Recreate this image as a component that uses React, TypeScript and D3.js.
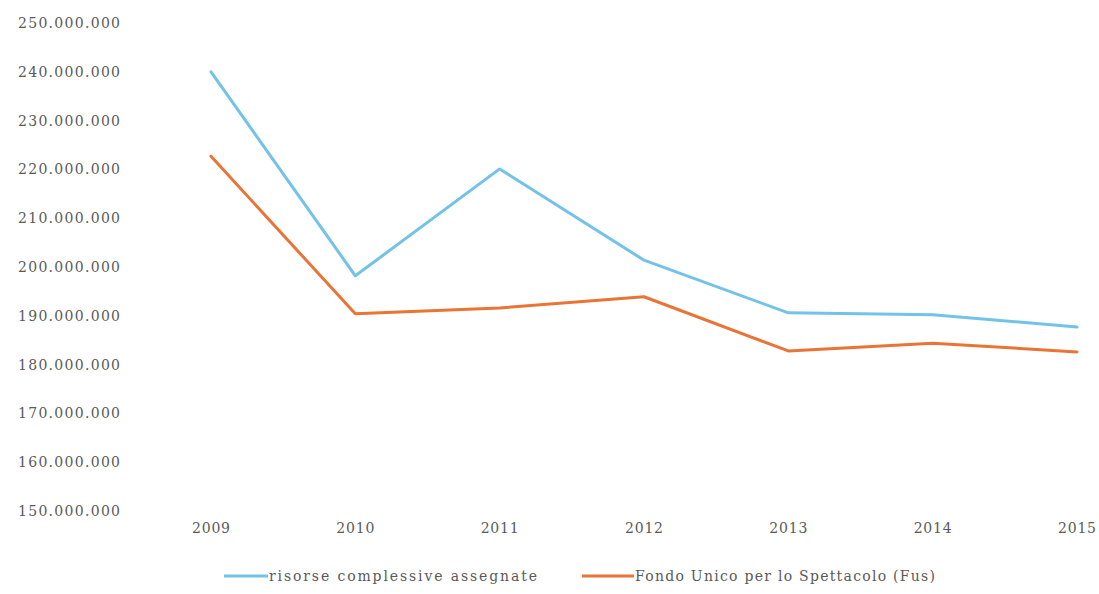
import React from 'react'
import * as d3 from 'd3'

const years = ['2009', '2010', '2011', '2012', '2013', '2014', '2015']
// risorse complessive assegnate
const totalResources = [240.0, 198.2, 220.1, 201.4, 190.6, 190.2, 187.7].map(v => v * 1e6)
// Fondo Unico per lo Spettacolo
const fusValues = [222.7, 190.4, 191.6, 193.9, 182.8, 184.4, 182.6].map(v => v * 1e6)
const yTicks = [150, 160, 170, 180, 190, 200, 210, 220, 230, 240, 250].map(v => v * 1e6)

const seriesNames = ['risorse complessive assegnate', 'Fondo Unico per lo Spettacolo (Fus)']
const seriesColors = ['#72c2ea', '#ea7436']

const width = 1099
const height = 594
const textColor = '#5a5a5a'
const font = '"DejaVu Serif", "Liberation Serif", serif'

export default function App() {
  const x = d3.scalePoint<string>().domain(years).range([211, 1077])
  const y = d3.scaleLinear().domain([150e6, 250e6]).range([511, 23])

  const line = d3.line<number>()
    .x((_, i) => x(years[i]) as number)
    .y(d => y(d))

  const fmt = (v: number) => d3.format(',')(v).replace(/,/g, '.')
  const series = [totalResources, fusValues]

  // legend layout: swatch start/end and text width
  const legend = [
    { x0: 224, x1: 268, tw: 268 },
    { x0: 582, x1: 634, tw: 300 },
  ]

  return (
    <svg width={width} height={height} style={{ position: 'absolute', left: 0, top: 0, background: '#fff' }}
      fontFamily={font}>
      {/* y axis labels */}
      {yTicks.map(t => (
        <text key={t} x={120} y={y(t)} dy="0.35em" textAnchor="end" fontSize={14}
          fill={textColor} textLength={102} lengthAdjust="spacing">
          {fmt(t)}
        </text>
      ))}

      {/* x axis labels */}
      {years.map(yr => (
        <text key={yr} x={x(yr)} y={528} dy="0.35em" textAnchor="middle" fontSize={14}
          fill={textColor} textLength={38} lengthAdjust="spacing">
          {yr}
        </text>
      ))}

      {series.map((s, i) => (
        <path key={i} d={line(s) || ''} fill="none" stroke={seriesColors[i]}
          strokeWidth={3} strokeLinejoin="round" strokeLinecap="round" />
      ))}

      {/* legend */}
      {legend.map((l, i) => (
        <g key={i}>
          <line x1={l.x0} x2={l.x1} y1={576} y2={576} stroke={seriesColors[i]} strokeWidth={3} />
          <text x={l.x1 + 1} y={576} dy="0.35em" fontSize={14} fill={textColor}
            textLength={l.tw} lengthAdjust="spacing">
            {seriesNames[i]}
          </text>
        </g>
      ))}
    </svg>
  )
}
